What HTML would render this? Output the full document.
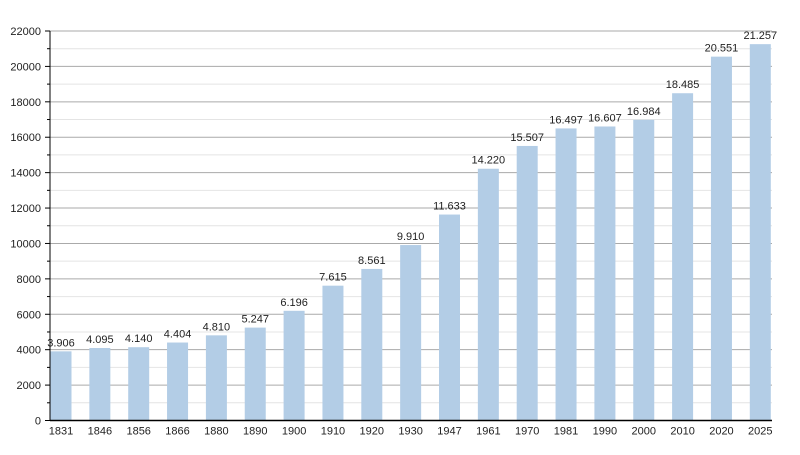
<!DOCTYPE html>
<html><head><meta charset="utf-8"><style>
body{margin:0;background:#fff;}
svg text{font-family:"Liberation Sans",sans-serif;font-size:11px;fill:#222;}
</style></head><body>
<svg id="chart" width="800" height="450"></svg>
<script>
const categories=["1831","1846","1856","1866","1880","1890","1900","1910","1920","1930","1947","1961","1970","1981","1990","2000","2010","2020","2025"];
const values=[3906,4095,4140,4404,4810,5247,6196,7615,8561,9910,11633,14220,15507,16497,16607,16984,18485,20551,21257];
const labels=["3.906","4.095","4.140","4.404","4.810","5.247","6.196","7.615","8.561","9.910","11.633","14.220","15.507","16.497","16.607","16.984","18.485","20.551","21.257"];
const yTicks=[0,2000,4000,6000,8000,10000,12000,14000,16000,18000,20000,22000];
const svg=document.getElementById('chart');
const NS='http://www.w3.org/2000/svg';
const x0=50,x1=772,yBase=420.5,yTop=31,yMax=22000;
const y=v=>yBase-(v/yMax)*(yBase-yTop);
const step=38.85,first=61;
const xc=i=>first+i*step;
function mk(t,a){const e=document.createElementNS(NS,t);for(const k in a)e.setAttribute(k,a[k]);svg.appendChild(e);return e;}
for(let v=1000;v<yMax;v+=2000){
 const l=mk('line',{x1:x0,x2:x1,y1:y(v),y2:y(v),stroke:'#e4e4e4','stroke-width':1});
 
 
 const t=mk('line',{x1:x0-3,x2:x0,y1:y(v),y2:y(v),stroke:'#000'});
 
 
}
yTicks.forEach(v=>{
 if(v>0){const l=mk('line',{x1:x0,x2:x1,y1:y(v),y2:y(v),stroke:'#aaa','stroke-width':1});
 
 }
 const t=mk('text',{x:x0-9,y:y(v)+4,'text-anchor':'end'});t.textContent=v;
 
 
 const tk=mk('line',{x1:x0-5,x2:x0,y1:y(v),y2:y(v),stroke:'#000'});
 
 
});
values.forEach((v,i)=>{
 const r=mk('rect',{x:xc(i)-10.5,y:y(v),width:21,height:yBase-y(v),fill:'#b3cde6'});
 
 
 const t=mk('text',{x:xc(i),y:y(v)-5,'text-anchor':'middle'});t.textContent=labels[i];
 
 
 const c=mk('text',{x:xc(i),y:yBase+14,'text-anchor':'middle'});c.textContent=categories[i];
 
 
});
const ax=mk('line',{x1:x0,x2:x0,y1:yTop,y2:yBase,stroke:'#000'});


const bx=mk('line',{x1:x0,x2:x1,y1:yBase,y2:yBase,stroke:'#000','stroke-width':1.5});


</script>
</body></html>
